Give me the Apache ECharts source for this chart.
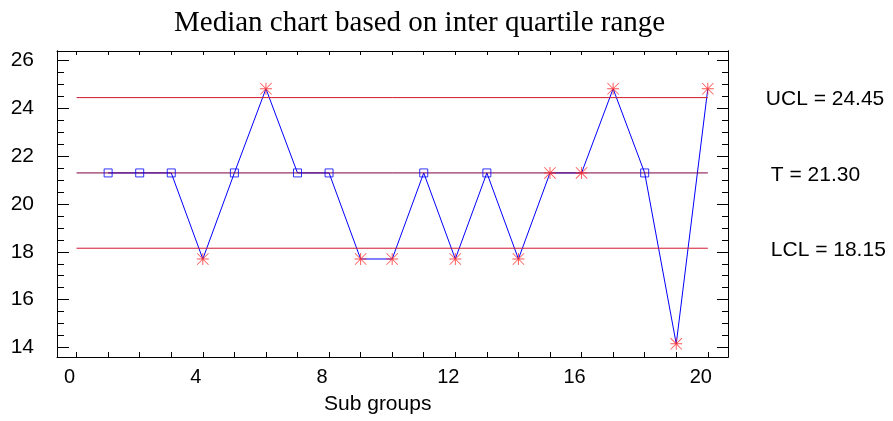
<!DOCTYPE html>
<html>
<head>
<meta charset="utf-8">
<style>
  html, body { margin: 0; padding: 0; background: #fff; }
  #chart { width: 893px; height: 421px; }
</style>
<script src="https://cdn.jsdelivr.net/npm/echarts@6.0.0/dist/echarts.min.js"></script>
</head>
<body>
<div id="chart"></div>
<script>
// ---- data ----
const subGroups = [1, 2, 3, 4, 5, 6, 7, 8, 9, 10, 11, 12, 13, 14, 15, 16, 17, 18, 19, 20];
const medians   = [21.3, 21.3, 21.3, 17.7, 21.3, 24.82, 21.3, 21.3, 17.7, 17.7,
                   21.3, 17.7, 21.3, 17.7, 21.3, 21.3, 24.82, 21.3, 14.15, 24.82];
const flagged   = [0, 0, 0, 1, 0, 1, 0, 0, 1, 1, 0, 1, 0, 1, 1, 1, 1, 0, 1, 1];
const UCL = 24.45, CENTER = 21.30, LCL = 18.15;
const limitNames = ['UCL', 'T', 'LCL'];
const limitStart = 0, limitEnd = 20;
const xTickLabels = [0, 4, 8, 12, 16, 20];
const xMinorTicks = [0, 1, 2, 3, 4, 5, 6, 7, 8, 9, 10, 11, 12, 13, 14, 15, 16, 17, 18, 19, 20];
const yTickLabels = [14, 16, 18, 20, 22, 24, 26];
const yMinorTicks = [14, 14.5, 15, 15.5, 16, 16.5, 17, 17.5, 18, 18.5, 19, 19.5, 20,
                     20.5, 21, 21.5, 22, 22.5, 23, 23.5, 24, 24.5, 25, 25.5, 26];
const titleText = 'Median chart based on inter quartile range';
const xAxisTitle = 'Sub groups';

// ---- styles ----
const SANS = '"Liberation Sans", Arial, sans-serif';
const SERIF = '"Liberation Serif", "Times New Roman", serif';
const X_MIN = -0.62, X_MAX = 20.64, Y_MIN = 13.6, Y_MAX = 26.4;
const STAR = 'path://M46 0 L54 0 L54 100 L46 100 Z M0 46 L100 46 L100 54 L0 54 Z ' +
             'M0 5 L5 0 L100 95 L95 100 Z M95 0 L100 5 L5 100 L0 95 Z';

const pts = subGroups.map((x, i) => [x, medians[i]]);
const squarePts = pts.filter((p, i) => !flagged[i]);
const starPts = pts.filter((p, i) => flagged[i]);

function xAx(pos, tickLen, showLabel) {
  return {
    type: 'value', position: pos, min: X_MIN, max: X_MAX,
    axisLine: { show: true, onZero: false, lineStyle: { color: '#000', width: 1 } },
    axisTick: { show: true, inside: true, length: tickLen, customValues: xMinorTicks,
                lineStyle: { color: '#000', width: 1 } },
    axisLabel: { show: showLabel, customValues: xTickLabels, fontSize: 20, fontFamily: SANS,
                 color: '#000', margin: 10, padding: [0, 14, 0, 0] },
    splitLine: { show: false }
  };
}
function yAx(pos, ticks, tickLen, showLabel) {
  return {
    type: 'value', position: pos, min: Y_MIN, max: Y_MAX, offset: 0,
    axisLine: { show: true, onZero: false, lineStyle: { color: '#000', width: 1 } },
    axisTick: { show: true, inside: true, length: tickLen, customValues: ticks,
                lineStyle: { color: '#000', width: 1 } },
    axisLabel: { show: showLabel, customValues: yTickLabels, fontSize: 21, fontFamily: SANS,
                 color: '#000', margin: 23 },
    splitLine: { show: false }
  };
}
function limitSeries(name, value, color, dist) {
  return {
    type: 'line', name: name, xAxisIndex: 0, yAxisIndex: 0, z: 3,
    data: [[limitStart, value], [limitEnd, value]],
    showSymbol: false, symbol: 'none', silent: true,
    lineStyle: { color: color, width: 1 },
    endLabel: { show: true, distance: dist, offset: [0, 2], fontSize: 21, fontFamily: SANS, color: '#000',
                formatter: p => name + ' = ' + p.value[1].toFixed(2) }
  };
}

const chart = echarts.init(document.getElementById('chart'), null, { renderer: 'canvas' });
chart.setOption({
  animation: false,
  backgroundColor: '#fff',
  title: { text: titleText, left: 169, top: 4,
           textStyle: { fontFamily: SERIF, fontSize: 29, fontWeight: 'normal', color: '#000' } },
  grid: { left: 57, right: 165, top: 51, bottom: 64 },
  xAxis: [xAx('bottom', 5, true), xAx('top', 4, false)],
  yAxis: [yAx('left', yTickLabels, 12, true), yAx('left', yMinorTicks, 7, false),
          yAx('right', yTickLabels, 11, false), yAx('right', yMinorTicks, 6, false)],
  graphic: [{ type: 'text', left: 324, top: 394,
              style: { text: xAxisTitle, fontSize: 21, fontFamily: SANS, fill: '#000' } }],
  series: [
    { type: 'line', xAxisIndex: 0, yAxisIndex: 0, z: 2, data: pts, showSymbol: false, symbol: 'none',
      silent: true, lineStyle: { color: '#0000ff', width: 1 } },
    limitSeries(limitNames[0], UCL, '#d01830', 58),
    limitSeries(limitNames[1], CENTER, '#800040', 63),
    limitSeries(limitNames[2], LCL, '#d01830', 63),
    { type: 'scatter', xAxisIndex: 0, yAxisIndex: 0, z: 4, data: squarePts, symbol: 'rect', symbolSize: 8,
      silent: true, itemStyle: { color: 'rgba(0,0,0,0)', borderColor: '#0000ff', borderWidth: 1 } },
    { type: 'scatter', xAxisIndex: 0, yAxisIndex: 0, z: 4, data: starPts, symbol: STAR, symbolSize: 12,
      silent: true, itemStyle: { color: '#ff2a2a' } }
  ]
});
</script>
</body>
</html>
